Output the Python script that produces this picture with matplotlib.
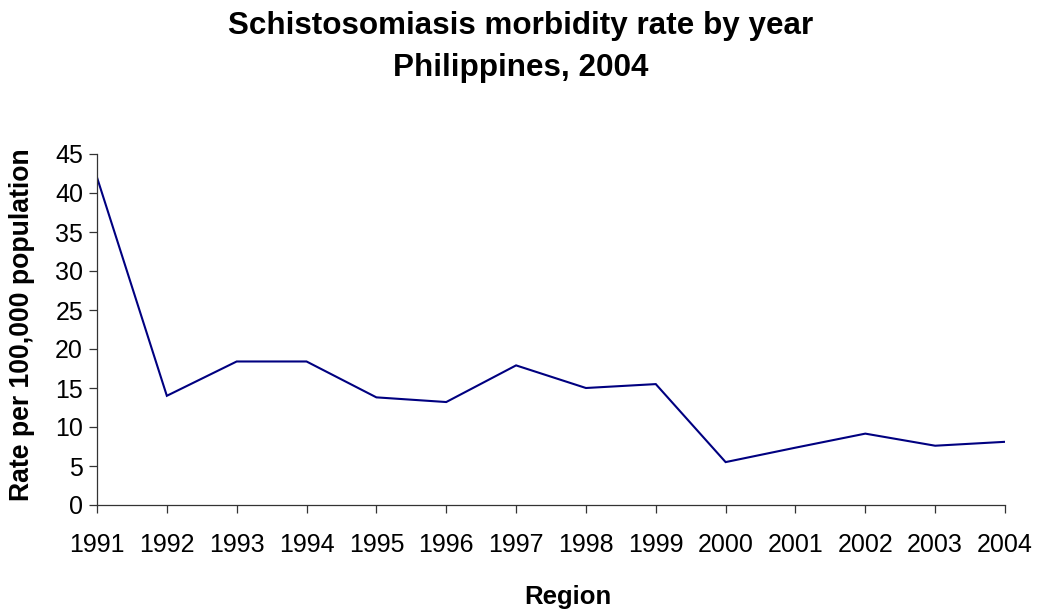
import matplotlib
matplotlib.use('Agg')
import matplotlib.pyplot as plt

# morbidity rate per 100,000
anni = ['1991', '1992', '1993', '1994', '1995', '1996', '1997',
        '1998', '1999', '2000', '2001', '2002', '2003', '2004']
tassi = [42.0, 14.0, 18.4, 18.4, 13.8, 13.2, 17.9,
         15.0, 15.5, 5.5, 7.35, 9.15, 7.6, 8.1]
ytick_vals = [0, 5, 10, 15, 20, 25, 30, 35, 40, 45]

plt.rcParams['font.family'] = ['Liberation Sans', 'DejaVu Sans']

W, H = 1037, 613
fig = plt.figure(figsize=(W / 100, H / 100), dpi=100)
ax = fig.add_axes([97 / W, 1 - 505 / H, (1005 - 97) / W, (505 - 154) / H])

x = list(range(len(anni)))
ax.plot(x, tassi, color='#000080', linewidth=1.5, solid_joinstyle='miter')

ax.set_xlim(0, len(anni) - 1)
ax.set_ylim(0, 45)
ax.set_xticks(x)
ax.set_xticklabels(anni)
ax.set_yticks(ytick_vals)

for s in ['top', 'right']:
    ax.spines[s].set_visible(False)
for s in ['left', 'bottom']:
    ax.spines[s].set_linewidth(0.9)
    ax.spines[s].set_color('#333333')

ax.tick_params(axis='x', direction='out', length=6, width=0.9, color='#333333',
               labelsize=18, pad=14)
ax.tick_params(axis='y', direction='out', length=6, width=0.9, color='#333333',
               labelsize=18, pad=4)

fig.text(568 / W, 1 - 597 / H, 'Region', ha='center', va='center',
         fontsize=18.5, fontweight='bold')
fig.text(22 / W, 1 - 325 / H, 'Rate per 100,000 population', ha='center', va='center',
         rotation=90, fontsize=19.2, fontweight='bold')

fig.text(521 / W, 1 - 34 / H, 'Schistosomiasis morbidity rate by year',
         ha='center', va='baseline', fontsize=22.6, fontweight='bold')
fig.text(521 / W, 1 - 76 / H, 'Philippines, 2004',
         ha='center', va='baseline', fontsize=22.6, fontweight='bold')

fig.savefig('out.png', dpi=100)
